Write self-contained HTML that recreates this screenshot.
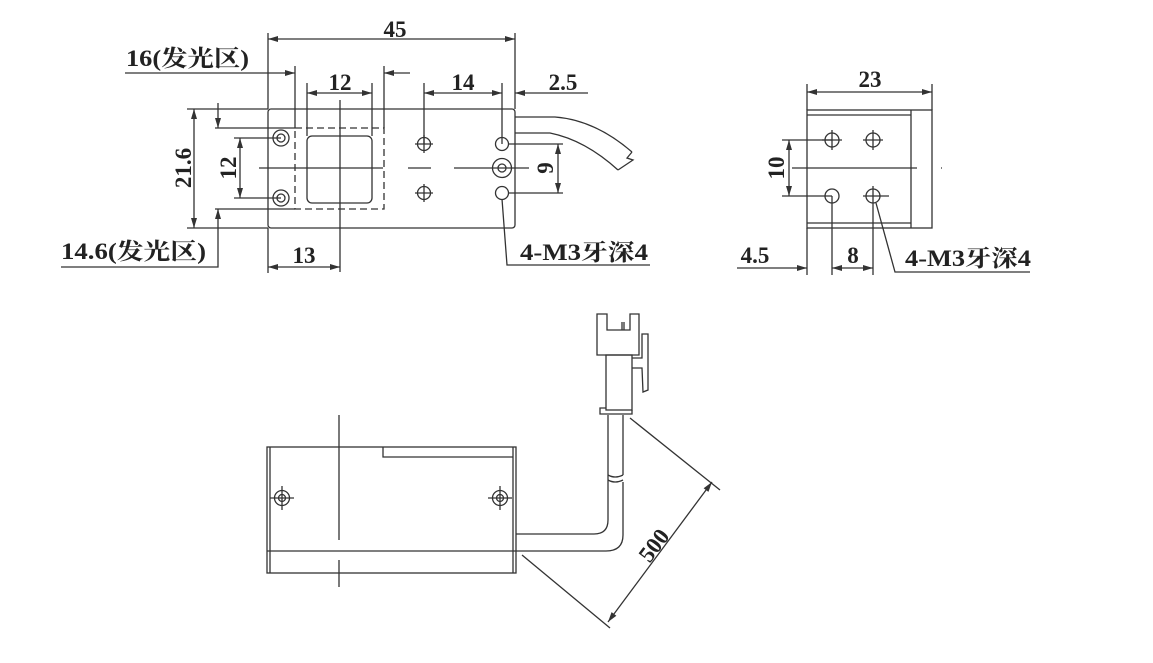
<!DOCTYPE html>
<html><head><meta charset="utf-8"><style>
html,body{margin:0;padding:0;background:#fff;}
svg{display:block;}
text{font-family:"Liberation Serif","Noto Serif CJK SC",serif;font-weight:bold;fill:#222;}
</style></head><body>
<svg width="1153" height="663" viewBox="0 0 1153 663" xmlns="http://www.w3.org/2000/svg">
<defs>
<marker id="a" viewBox="0 0 10 6" refX="10" refY="3" markerWidth="11" markerHeight="6" orient="auto-start-reverse" markerUnits="userSpaceOnUse"><path d="M0,0 L10,3 L0,6 z" fill="#333"/></marker>
</defs>
<g stroke="#333" stroke-width="1.3" fill="none">
<rect x="268" y="109" width="247" height="119" rx="3"/>
<line x1="268" y1="33" x2="268" y2="109"/><line x1="515" y1="33" x2="515" y2="109"/>
<line x1="268" y1="39" x2="515" y2="39" marker-start="url(#a)" marker-end="url(#a)"/>
<line x1="125" y1="73" x2="295" y2="73" marker-end="url(#a)"/>
<line x1="410" y1="73" x2="384" y2="73" marker-end="url(#a)"/>
<line x1="295" y1="66" x2="295" y2="128"/><line x1="384" y1="66" x2="384" y2="128"/>
<rect x="295" y="128" width="89" height="81" stroke-dasharray="7,4"/>
<rect x="307" y="136" width="65" height="67" rx="5"/>
<line x1="307" y1="83" x2="307" y2="136"/><line x1="372" y1="83" x2="372" y2="136"/>
<line x1="307" y1="93" x2="372" y2="93" marker-start="url(#a)" marker-end="url(#a)"/>
<line x1="340" y1="100" x2="340" y2="272"/>
<line x1="268" y1="228" x2="268" y2="273"/>
<line x1="268" y1="267" x2="340" y2="267" marker-start="url(#a)" marker-end="url(#a)"/>
<line x1="259" y1="168" x2="383" y2="168"/><line x1="408" y1="168" x2="431" y2="168"/><line x1="454" y1="168" x2="529" y2="168"/>
<circle cx="281" cy="138" r="8"/><circle cx="281" cy="138" r="4"/>
<circle cx="281" cy="198" r="8"/><circle cx="281" cy="198" r="4"/>
<circle cx="424" cy="144" r="6.5"/><circle cx="424" cy="193" r="6.5"/>
<line x1="415" y1="144" x2="433" y2="144"/><line x1="424" y1="135" x2="424" y2="153"/>
<line x1="415" y1="193" x2="433" y2="193"/><line x1="424" y1="184" x2="424" y2="202"/>
<circle cx="502" cy="144" r="6.5"/><circle cx="502" cy="193" r="6.5"/>
<circle cx="502" cy="168" r="9.5"/><circle cx="502" cy="168" r="4"/>
<line x1="424" y1="83" x2="424" y2="144"/><line x1="502" y1="83" x2="502" y2="144"/>
<line x1="424" y1="93" x2="502" y2="93" marker-start="url(#a)" marker-end="url(#a)"/>
<line x1="588" y1="93" x2="515" y2="93" marker-end="url(#a)"/>
<line x1="187" y1="109" x2="268" y2="109"/><line x1="187" y1="228" x2="268" y2="228"/>
<line x1="194" y1="109" x2="194" y2="228" marker-start="url(#a)" marker-end="url(#a)"/>
<line x1="234" y1="138" x2="281" y2="138"/><line x1="234" y1="198" x2="281" y2="198"/>
<line x1="240" y1="138" x2="240" y2="198" marker-start="url(#a)" marker-end="url(#a)"/>
<line x1="215" y1="128" x2="295" y2="128"/><line x1="215" y1="209" x2="295" y2="209"/>
<line x1="218" y1="103" x2="218" y2="128" marker-end="url(#a)"/>
<polyline points="61,267 218,267 218,209" marker-end="url(#a)"/>
<path d="M515,117 L555,117 Q595,120 632,152"/>
<path d="M515,133 L550,133 Q585,140 618,170"/>
<path d="M632,152 L627,158 L633,160 L618,170"/>
<line x1="508" y1="144" x2="563" y2="144"/><line x1="508" y1="193" x2="563" y2="193"/>
<line x1="558" y1="144" x2="558" y2="193" marker-start="url(#a)" marker-end="url(#a)"/>
<polyline points="502,199 507,265 650,265"/>

<rect x="807" y="110" width="125" height="118"/>
<line x1="807" y1="115" x2="911" y2="115"/><line x1="807" y1="223" x2="911" y2="223"/>
<line x1="911" y1="110" x2="911" y2="228"/>
<line x1="807" y1="84" x2="807" y2="110"/><line x1="932" y1="84" x2="932" y2="110"/>
<line x1="807" y1="92" x2="932" y2="92" marker-start="url(#a)" marker-end="url(#a)"/>
<circle cx="832" cy="140" r="7"/><circle cx="873" cy="140" r="7"/>
<circle cx="832" cy="196" r="7"/><circle cx="873" cy="196" r="7"/>
<line x1="822" y1="140" x2="842" y2="140"/><line x1="832" y1="130" x2="832" y2="150"/>
<line x1="863" y1="140" x2="883" y2="140"/><line x1="873" y1="130" x2="873" y2="150"/>
<line x1="863" y1="196" x2="889" y2="196"/><line x1="873" y1="186" x2="873" y2="196"/>
<line x1="792" y1="168" x2="917" y2="168"/>
<line x1="941" y1="168" x2="942" y2="168"/>
<line x1="782" y1="140" x2="832" y2="140"/><line x1="782" y1="196" x2="832" y2="196"/>
<line x1="789" y1="140" x2="789" y2="196" marker-start="url(#a)" marker-end="url(#a)"/>
<line x1="807" y1="228" x2="807" y2="275"/>
<line x1="737" y1="268" x2="807" y2="268" marker-end="url(#a)"/>
<line x1="832" y1="196" x2="832" y2="275"/><line x1="873" y1="196" x2="873" y2="275"/>
<line x1="832" y1="268" x2="873" y2="268" marker-start="url(#a)" marker-end="url(#a)"/>
<polyline points="876,203 895,272 1030,272"/>

<rect x="267" y="447" width="249" height="126"/>
<line x1="270" y1="447" x2="270" y2="573"/><line x1="513" y1="447" x2="513" y2="573"/>
<line x1="267" y1="551" x2="516" y2="551"/>
<polyline points="383,447 383,457 513,457"/>
<line x1="339" y1="415" x2="339" y2="540"/><line x1="339" y1="560" x2="339" y2="587"/>
<circle cx="282" cy="498" r="7.5"/><circle cx="282" cy="498" r="3.5"/>
<line x1="270" y1="498" x2="294" y2="498"/><line x1="282" y1="486" x2="282" y2="510"/>
<circle cx="500" cy="498" r="7.5"/><circle cx="500" cy="498" r="3.5"/>
<line x1="488" y1="498" x2="512" y2="498"/><line x1="500" y1="486" x2="500" y2="510"/>
<path d="M516,534 L594,534 Q608,534 608,520 L608,475"/>
<path d="M516,551 L606,551 Q623,551 623,535 L623,482"/>
<path d="M608,480 Q615,484 623,480"/><path d="M608,475 Q615,479 623,475"/>
<line x1="608" y1="475" x2="608" y2="415"/><line x1="623" y1="475" x2="623" y2="415"/>
<path d="M597,355 L597,314 L607,314 L607,330 L630,330 L630,314 L639,314 L639,355 Z"/>
<line x1="622" y1="322" x2="622" y2="330"/><line x1="624" y1="322" x2="624" y2="330"/>
<rect x="606" y="355" width="26" height="55"/>
<polyline points="606,408 600,408 600,414 632,414 632,410"/>
<path d="M632,358 L642,358 L642,334 L648,334 L648,390 L643,392 L642,368 L632,368"/>
<line x1="630" y1="418" x2="720" y2="490"/>
<line x1="522" y1="555" x2="610" y2="628"/>
<line x1="712" y1="482" x2="608" y2="622" marker-start="url(#a)" marker-end="url(#a)"/>
</g>
<g font-size="23">
<text x="395" y="37" text-anchor="middle">45</text>
<text x="126" y="66" textLength="123" lengthAdjust="spacingAndGlyphs">16(发光区)</text>
<text x="340" y="90" text-anchor="middle">12</text>
<text x="463" y="90" text-anchor="middle">14</text>
<text x="563" y="90" text-anchor="middle">2.5</text>
<text x="304" y="263" text-anchor="middle">13</text>
<text x="61" y="259" textLength="145" lengthAdjust="spacingAndGlyphs">14.6(发光区)</text>
<text x="520" y="260" textLength="128" lengthAdjust="spacingAndGlyphs">4-M3牙深4</text>
<text transform="translate(191,168) rotate(-90)" text-anchor="middle">21.6</text>
<text transform="translate(236,168) rotate(-90)" text-anchor="middle">12</text>
<text transform="translate(553,168) rotate(-90)" text-anchor="middle">9</text>
<text x="870" y="87" text-anchor="middle">23</text>
<text transform="translate(784,168) rotate(-90)" text-anchor="middle">10</text>
<text x="755" y="263" text-anchor="middle">4.5</text>
<text x="853" y="263" text-anchor="middle">8</text>
<text x="905" y="266" textLength="126" lengthAdjust="spacingAndGlyphs">4-M3牙深4</text>
<text transform="translate(660,550) rotate(-53)" text-anchor="middle">500</text>
</g>
</svg>
</body></html>
